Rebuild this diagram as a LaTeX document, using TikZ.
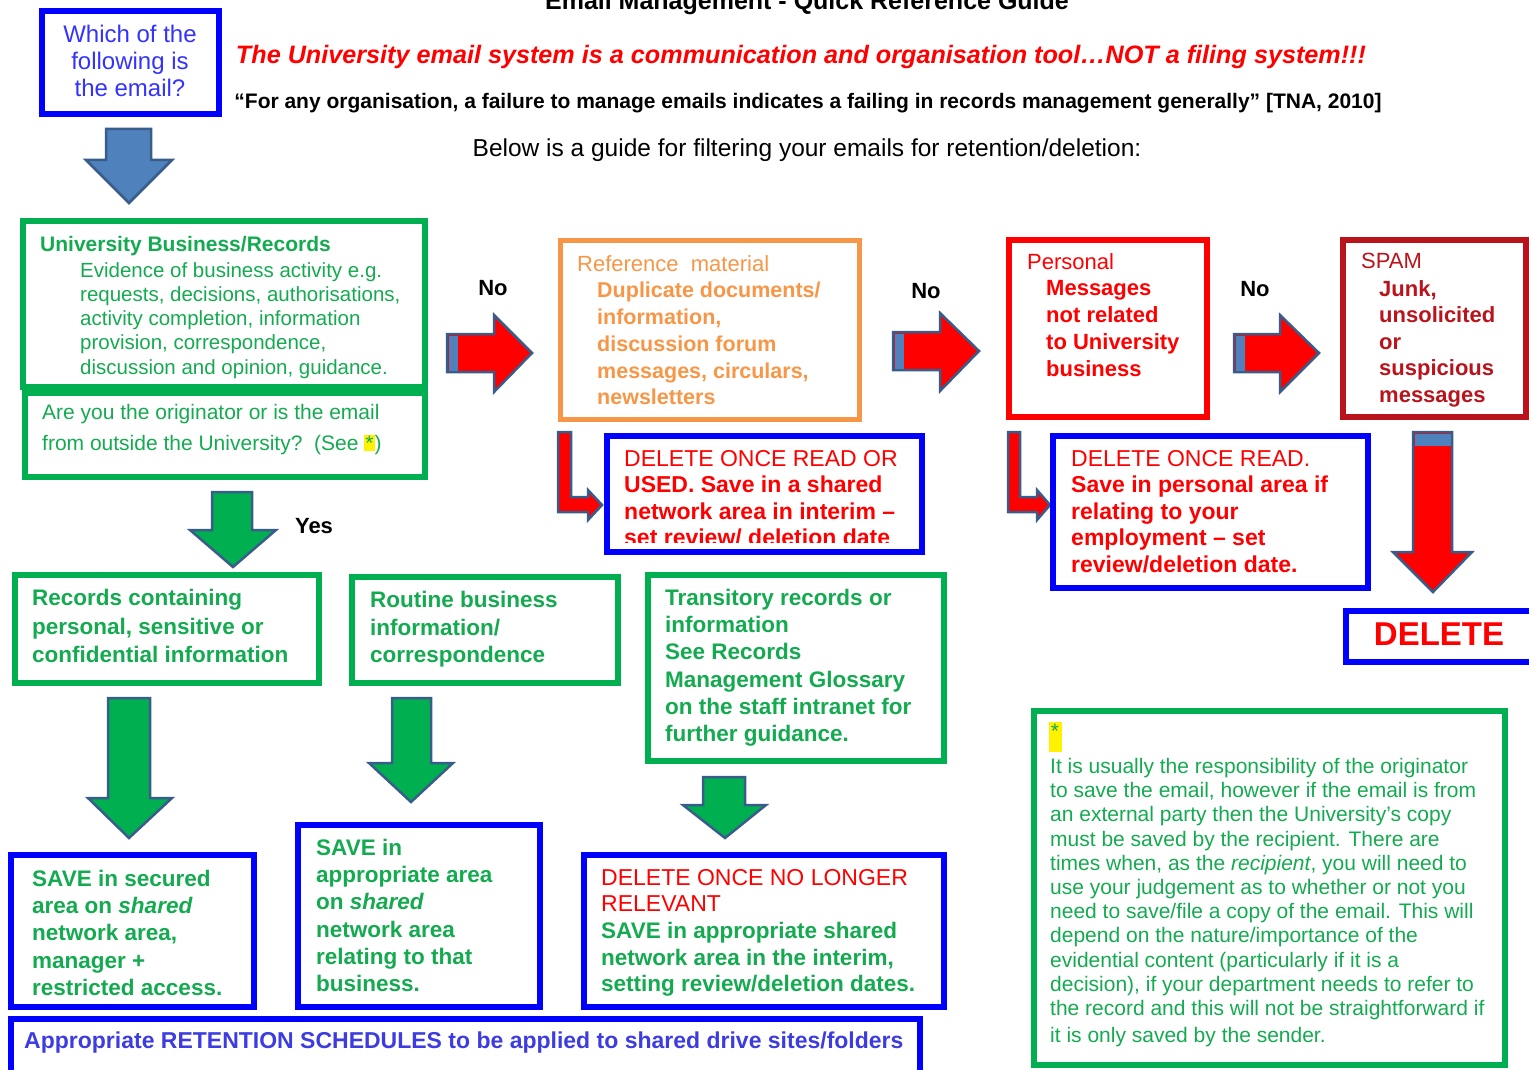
\documentclass[tikz,border=0pt]{standalone}
\usepackage{fontspec}
\setmainfont{Liberation Sans}

\definecolor{ublue}{RGB}{0,0,255}
\definecolor{qblue}{RGB}{51,51,255}
\definecolor{rblue}{RGB}{60,60,225}
\definecolor{ugreen}{RGB}{0,176,80}
\definecolor{gtext}{RGB}{20,170,80}
\definecolor{uorange}{RGB}{247,150,70}
\definecolor{ured}{RGB}{255,0,0}
\definecolor{spamred}{RGB}{185,20,28}
\definecolor{steel}{RGB}{79,129,189}
\definecolor{steeldark}{RGB}{56,93,138}

\newcommand{\fsz}[2]{\fontsize{#1}{#2}\selectfont}

\begin{document}
\begin{tikzpicture}[x=1pt, y=-1pt, line join=miter,
  box/.style={line width=6},
  txt/.style={anchor=north west, inner sep=0, align=left},
  fatarrow/.style={line width=2.5, draw=steeldark},
  yesno/.style={font=\fsz{22}{26}\bfseries}]

\useasboundingbox (0,0) rectangle (1529,1070);
\clip (0,0) rectangle (1529,1070);

% heading lines
\node[anchor=base, font=\fsz{25}{30}\bfseries] (title) at (807,10) {Email Management - Quick Reference Guide};
\node[text=ured, font=\fsz{25.2}{29}\bfseries\itshape] (motto) at (801,57) {The University email system is a communication and organisation tool…NOT a filing system!!!};
\node[font=\fsz{21}{25}\bfseries] (quote) at (808,103) {“For any organisation, a failure to manage emails indicates a failing in records management generally” [TNA, 2010]};
\node[font=\fsz{24.5}{28}] (guide) at (807,150) {Below is a guide for filtering your emails for retention/deletion:};

% start
\draw[box, draw=ublue] (42,11) rectangle (219,114);
\node[text=qblue, align=center, font=\fsz{24}{27}] (which) at (130,61) {Which of the\\following is\\the email?};
\draw[fatarrow, fill=steel] (106,129) -- (151,129) -- (151,160) -- (172,160) -- (129,203) -- (86,160) -- (106,160) -- cycle;

% university business
\draw[box, draw=ugreen] (23,221) rectangle (425,387);
\draw[box, draw=ugreen] (25,393) rectangle (425,477);
\node[txt, text=gtext, font=\fsz{21}{24}\bfseries] (ubr) at (40,236) {University Business/Records};
\node[txt, text=gtext, font=\fsz{20.5}{24.3}] (ubrbody) at (80,262) {Evidence of business activity e.g.\\requests, decisions, authorisations,\\activity completion, information\\provision, correspondence,\\discussion and opinion, guidance.};
\node[txt, text=gtext, font=\fsz{21}{31}] (origin) at (42,404) {Are you the originator or is the email\\from outside the University?\ \ (See {\fboxsep=1pt\colorbox{yellow}{*}})};

% No arrows
\draw[fatarrow, fill=ured] (447,334) -- (494,334) -- (494,315) -- (532,353) -- (494,392) -- (494,372) -- (447,372) -- cycle;
\fill[steel] (448.5,335.5) rectangle (458,370.5);
\draw[fatarrow, fill=ured] (893,332) -- (940,332) -- (940,313) -- (979,351) -- (940,391) -- (940,370) -- (893,370) -- cycle;
\fill[steel] (894.5,333.5) rectangle (904,368.5);
\draw[fatarrow, fill=ured] (1234,334) -- (1280,334) -- (1280,315) -- (1319,353) -- (1280,392) -- (1280,372) -- (1234,372) -- cycle;
\fill[steel] (1235.5,335.5) rectangle (1245,370.5);
\node[yesno] (no1) at (493,288) {No};
\node[yesno] (no2) at (926,291) {No};
\node[yesno] (no3) at (1255,289) {No};

% reference material
\draw[box, draw=uorange, line width=5] (560,240) rectangle (859,419);
\node[txt, text=uorange, font=\fsz{22}{27}] (refmat) at (577,255) {Reference\ \ material};
\node[txt, text=uorange, font=\fsz{21.5}{26.8}\bfseries] (refbody) at (597,282) {Duplicate documents/\\information,\\discussion forum\\messages, circulars,\\newsletters};

% personal
\draw[box, draw=ured] (1009,240) rectangle (1207,417);
\node[txt, text=ured, font=\fsz{22}{27}] (personal) at (1027,253) {Personal};
\node[txt, text=ured, font=\fsz{22}{27}\bfseries] (persbody) at (1046,280) {Messages\\not related\\to University\\business};

% spam
\draw[box, draw=spamred] (1343,240) rectangle (1526,417);
\node[txt, text=spamred, font=\fsz{22}{27}] (spam) at (1361,253) {SPAM};
\node[txt, text=spamred, font=\fsz{22}{26.5}\bfseries] (spambody) at (1379,280) {Junk,\\unsolicited\\or\\suspicious\\messages};

% side arrows to delete boxes
\draw[fatarrow, fill=ured] (558,432) -- (571,432) -- (571,497) -- (588,497) -- (588,490) -- (602,505) -- (588,520) -- (588,512) -- (558,512) -- cycle;
\draw[fatarrow, fill=ured] (1008,432) -- (1020,432) -- (1020,497) -- (1037,497) -- (1037,490) -- (1050,505) -- (1037,520) -- (1037,512) -- (1008,512) -- cycle;

\draw[box, draw=ublue] (607,436) rectangle (922,552);
\begin{scope}
  \clip (610,439) rectangle (919,542);
  \node[txt, text=ured, font=\fsz{23}{26.5}] (delused) at (624,450) {DELETE ONCE READ OR\\{\bfseries USED. Save in a shared}\\{\bfseries network area in interim –}\\{\bfseries set review/ deletion date}};
\end{scope}

\draw[box, draw=ublue] (1053,436) rectangle (1368,588);
\node[txt, text=ured, font=\fsz{23}{26.5}] (delread) at (1071,450) {DELETE ONCE READ.\\{\bfseries Save in personal area if}\\{\bfseries relating to your}\\{\bfseries employment – set}\\{\bfseries review/deletion date.}};

% spam to delete
\draw[fatarrow, fill=ured] (1413,432) -- (1452,432) -- (1452,552) -- (1472,552) -- (1433,592) -- (1393,552) -- (1413,552) -- cycle;
\fill[steel] (1414.5,433.5) rectangle (1450.5,446);
\draw[box, draw=ublue] (1346,611) rectangle (1535,662);
\node[text=ured, font=\fsz{33}{36}\bfseries] (delete) at (1439,634) {DELETE};

% yes branch
\draw[fatarrow, fill=ugreen] (212,492) -- (252,492) -- (252,530) -- (276,530) -- (233,567) -- (190,530) -- (212,530) -- cycle;
\node[yesno] (yes) at (314,526) {Yes};

\draw[box, draw=ugreen] (15,575) rectangle (319,683);
\node[txt, text=gtext, font=\fsz{22.5}{28.5}\bfseries] (sensitive) at (32,589) {Records containing\\personal, sensitive or\\confidential information};
\draw[box, draw=ugreen] (352,577) rectangle (618,683);
\node[txt, text=gtext, font=\fsz{22.5}{27.5}\bfseries] (routine) at (370,591) {Routine business\\information/\\correspondence};
\draw[box, draw=ugreen] (648,575) rectangle (944,761);
\node[txt, text=gtext, font=\fsz{22.5}{27.2}\bfseries] (transit) at (665,589) {Transitory records or\\information\\See Records\\Management Glossary\\on the staff intranet for\\further guidance.};

\draw[fatarrow, fill=ugreen] (108,698) -- (150,698) -- (150,798) -- (172,798) -- (129,838) -- (88,798) -- (108,798) -- cycle;
\draw[fatarrow, fill=ugreen] (392,698) -- (431,698) -- (431,763) -- (453,763) -- (411,802) -- (369,763) -- (392,763) -- cycle;
\draw[fatarrow, fill=ugreen] (703,777) -- (745,777) -- (745,805) -- (766,805) -- (725,838) -- (683,805) -- (703,805) -- cycle;

% save boxes
\draw[box, draw=ublue] (11,855) rectangle (254,1007);
\node[txt, text=gtext, font=\fsz{22.5}{27.2}\bfseries] (secured) at (32,870) {SAVE in secured\\area on \textit{shared}\\network area,\\manager +\\restricted access.};
\draw[box, draw=ublue] (298,825) rectangle (540,1007);
\node[txt, text=gtext, font=\fsz{22.5}{27.2}\bfseries] (approp) at (316,839) {SAVE in\\appropriate area\\on \textit{shared}\\network area\\relating to that\\business.};
\draw[box, draw=ublue] (584,855) rectangle (944,1007);
\node[txt, text=ured, font=\fsz{23}{26.5}] (nolonger) at (601,869) {DELETE ONCE NO LONGER\\RELEVANT};
\node[txt, text=gtext, font=\fsz{22.5}{26.5}\bfseries] (interim) at (601,922) {SAVE in appropriate shared\\network area in the interim,\\setting review/deletion dates.};

\draw[box, draw=ublue] (11,1019) rectangle (920,1078);
\node[anchor=west, inner sep=0, text=rblue, font=\fsz{23}{27}\bfseries] (sched) at (24,1043) {Appropriate RETENTION SCHEDULES to be applied to shared drive sites/folders};

% footnote
\draw[box, draw=ugreen] (1034,711) rectangle (1505,1065);
\fill[yellow] (1049,722) rectangle (1062,752);
\node[text=gtext, font=\fsz{21}{24}, inner sep=0] (star) at (1055,731) {*};
\node[txt, text=gtext, font=\fsz{21}{24.2}] (note) at (1050,758) {It is usually the responsibility of the originator\\to save the email, however if the email is from\\an external party then the University’s copy\\must be saved by the recipient. There are\\times when, as the \textit{recipient}, you will need to\\use your judgement as to whether or not you\\need to save/file a copy of the email. This will\\depend on the nature/importance of the\\evidential content (particularly if it is a\\decision), if your department needs to refer to\\the record and this will not be straightforward if\\[3pt]it is only saved by the sender.};

\end{tikzpicture}
\end{document}
